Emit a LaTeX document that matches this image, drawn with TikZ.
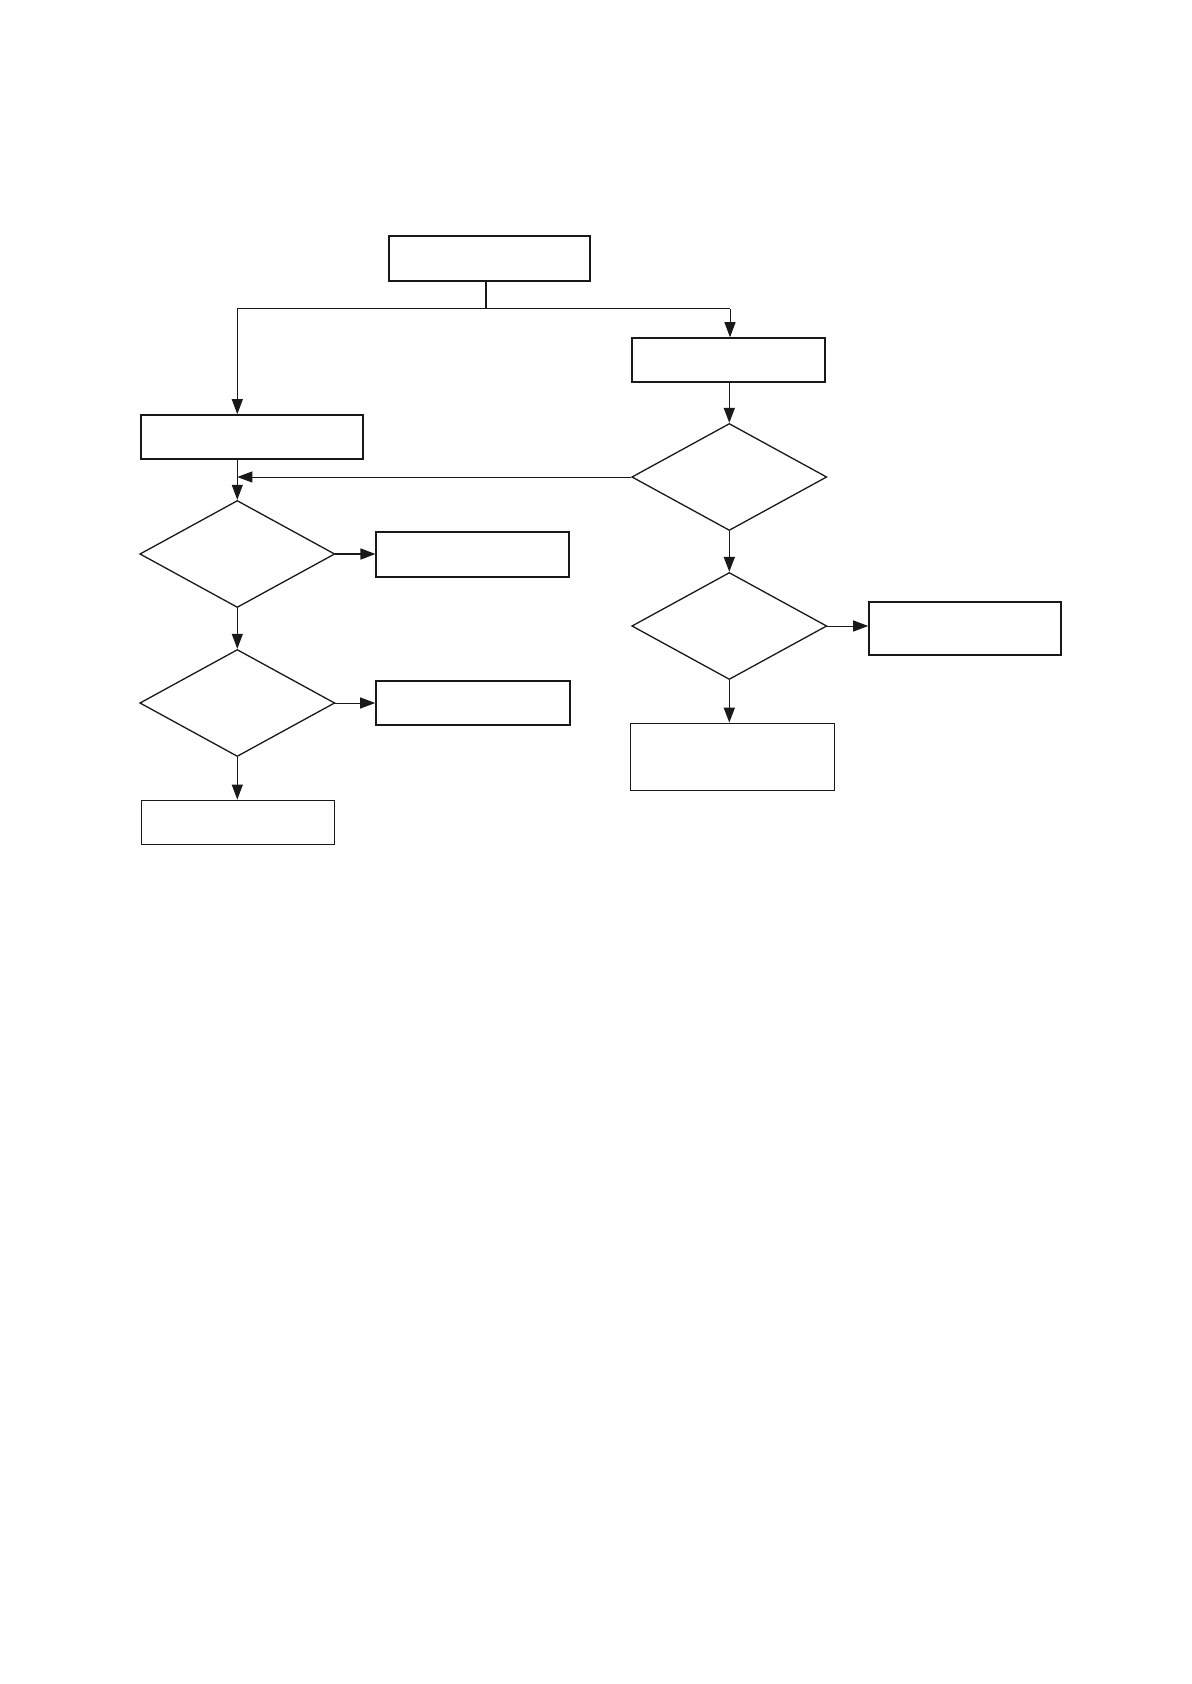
\documentclass[tikz,border=0pt]{standalone}
\usetikzlibrary{shapes.geometric,arrows.meta}
\begin{document}
\begin{tikzpicture}[x=0.5pt,y=-0.5pt,
  box/.style={draw=black!90,rectangle,inner sep=0pt,line width=#1},
  box/.default=0.7pt,
  dia/.style={draw=black!90,diamond,inner sep=0pt,line width=0.65pt,minimum width=97.5pt,minimum height=53.5pt},
  arr/.style={draw=black!90,line width=#1,-{Triangle[length=7.5pt,width=5.5pt]}},
  arr/.default=0.5pt,
  ln/.style={draw=black!90,line width=#1},
  ln/.default=0.5pt]
\useasboundingbox (0,0) rectangle (1192,1684);
\fill[white] (0,0) rectangle (1192,1684);
% nodes
\node[box=0.75pt,minimum width=100.5pt,minimum height=22.5pt] (top) at (489.5,258.5) {};
\node[box=0.8pt,minimum width=111pt,minimum height=22pt] (lbox) at (252,437) {};
\node[box=0.75pt,minimum width=96.5pt,minimum height=22pt] (abox) at (728.5,360) {};
\node[dia] (d1) at (729.3,477) {};
\node[dia] (d2) at (729.3,626) {};
\node[box=0.8pt,minimum width=96pt,minimum height=26.5pt] (bbox) at (965,628.5) {};
\node[box=0.42pt,minimum width=102pt,minimum height=33.5pt] (cbox) at (732,756.5) {};
\node[dia] (dl1) at (237.3,554) {};
\node[box=0.55pt,minimum width=96.5pt,minimum height=22.5pt] (l1box) at (472.5,554.5) {};
\node[dia] (dl2) at (237.3,703) {};
\node[box=0.8pt,minimum width=97pt,minimum height=22pt] (l2box) at (473,703) {};
\node[box=0.42pt,minimum width=96.5pt,minimum height=22pt] (lbbox) at (237.5,822) {};
% connectors
\coordinate (split) at (486,309);
\coordinate (sl) at (237.3,309);
\coordinate (sr) at (730,309);
\draw[ln=0.8pt] (top.south -| split) -- (split);
\draw[ln=0.5pt] (sl) -- (sr);
\draw[arr=0.5pt] (sl) -- (sl |- lbox.north);
\draw[arr=0.5pt] (sr) -- (sr |- abox.north);
\draw[arr=0.8pt] (abox.south -| d1.north) -- (d1.north);
\coordinate (j) at (dl1.north |- d1.west);
\draw[arr=0.5pt] (d1.west) -- (j);
\draw[arr=0.5pt] (lbox.south -| dl1.north) -- (dl1.north);
\draw[arr=0.8pt] (d1.south) -- (d2.north);
\draw[arr=0.5pt] (d2.east) -- (d2.east -| bbox.west);
\draw[arr=0.8pt] (d2.south) -- (d2.south |- cbox.north);
\draw[arr=0.8pt] (dl1.east) -- (dl1.east -| l1box.west);
\draw[arr=0.5pt] (dl1.south) -- (dl2.north);
\draw[arr=0.5pt] (dl2.east) -- (dl2.east -| l2box.west);
\draw[arr=0.5pt] (dl2.south) -- (dl2.south |- lbbox.north);
\end{tikzpicture}
\end{document}
